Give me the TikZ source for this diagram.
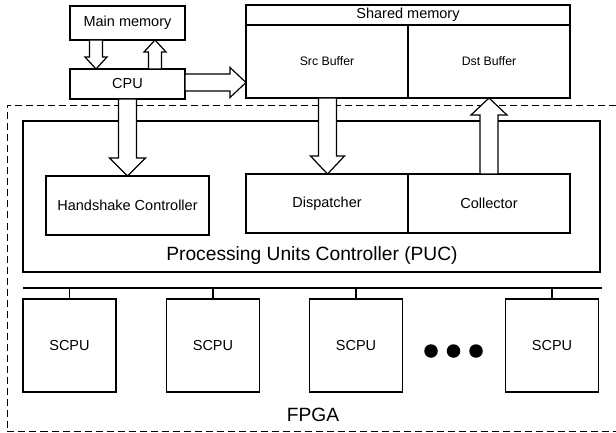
\documentclass[tikz,border=0pt]{standalone}
\usepackage{fontspec}
\setmainfont{Liberation Sans}
\usetikzlibrary{calc}
\tikzset{
  box/.style={draw, line width=1.2pt, fill=white, inner sep=0pt, font=\fontsize{14.5}{17}\selectfont},
  smalltxt/.style={font=\fontsize{12.3}{14}\selectfont},
  bigtxt/.style={inner sep=0pt, font=\fontsize{19.2}{22}\selectfont},
  barrow/.style={draw, line width=1.2pt, fill=white, line join=miter},
  frame/.style={line width=1pt, dash pattern=on 7pt off 4pt},
  dot/.style={circle, fill, inner sep=0pt, minimum size=13.5pt}
}
\newcommand\blockarrow[5]{% from #1 to #2, shaft half width #3, head half width #4, head length #5
  \coordinate (baC) at ($(#2)!#5!(#1)$);
  \draw[barrow] ($(#1)!#3!90:(#2)$) -- ($(baC)!#3!90:(#2)$) -- ($(baC)!#4!90:(#2)$) -- (#2)
     -- ($(baC)!#4!-90:(#2)$) -- ($(baC)!#3!-90:(#2)$) -- ($(#1)!#3!-90:(#2)$) -- cycle;
}
\begin{document}
\begin{tikzpicture}[x=1pt,y=-1pt]
\useasboundingbox (0,0) rectangle (616,433);
% FPGA dashed frame
\draw[frame] (616,105.5) -- (7,105.5) -- (7,431) -- (616,431);
% top boxes
\node[box, minimum width=115pt, minimum height=34pt] (mm) at (127.5,23) {Main memory};
\node[box, minimum width=115pt, minimum height=30pt] (cpu) at (127.5,84) {CPU};
\node[box, minimum width=324pt, minimum height=20pt] (shm) at (408,15) {Shared memory};
\node[box, smalltxt, minimum width=162pt, minimum height=73pt] (src) at (327,61.5) {Src Buffer};
\node[box, smalltxt, minimum width=162pt, minimum height=73pt] (dst) at (489,61.5) {Dst Buffer};
% PUC
\node[box, minimum width=577pt, minimum height=151pt] (puc) at (311.5,196.5) {};
\node[bigtxt] (puclbl) at (312,255.5) {Processing Units Controller (PUC)};
\node[box, minimum width=163pt, minimum height=59pt] (hs) at (127.5,205.5) {Handshake Controller};
\node[box, minimum width=162pt, minimum height=59pt] (disp) at (327,203.5) {Dispatcher};
\node[box, minimum width=162pt, minimum height=59pt] (coll) at (489,203.5) {Collector};
% bus and SCPUs
\coordinate (busL) at (23,288);
\coordinate (busR) at (602,288);
\draw[line width=1.8pt] (busL) -- (busR);
\foreach \n/\x in {s1/69.5, s2/213, s3/356, s4/552}{
  \node[box, minimum width=93pt, minimum height=93pt] (\n) at (\x,345.5) {SCPU};
  \draw[line width=1.2pt] (\n.north) -- (\n.north |- busL);
}
\node[dot] (d1) at (431,351) {};
\node[dot] (d2) at (453.5,351) {};
\node[dot] (d3) at (476,351) {};
\node[bigtxt] (fpga) at (313,415) {FPGA};
% block arrows
\coordinate (a1s) at (96,40);  \coordinate (a1e) at (96,69);
\coordinate (a2s) at (155,69); \coordinate (a2e) at (155,40);
\coordinate (a3s) at (185,82.5); \coordinate (a3e) at (246,82.5);
\coordinate (a4s) at (127.5,99); \coordinate (a4e) at (127.5,176);
\coordinate (a5s) at (327.5,98); \coordinate (a5e) at (327.5,174);
\coordinate (a6s) at (489,174); \coordinate (a6e) at (489,98);
\blockarrow{a1s}{a1e}{6.5pt}{11pt}{12pt}
\blockarrow{a2s}{a2e}{6.5pt}{11pt}{12pt}
\blockarrow{a3s}{a3e}{8.5pt}{15pt}{16pt}
\blockarrow{a4s}{a4e}{9pt}{18pt}{18pt}
\blockarrow{a5s}{a5e}{9pt}{17pt}{18pt}
\blockarrow{a6s}{a6e}{9pt}{18pt}{17pt}
\end{tikzpicture}
\end{document}
